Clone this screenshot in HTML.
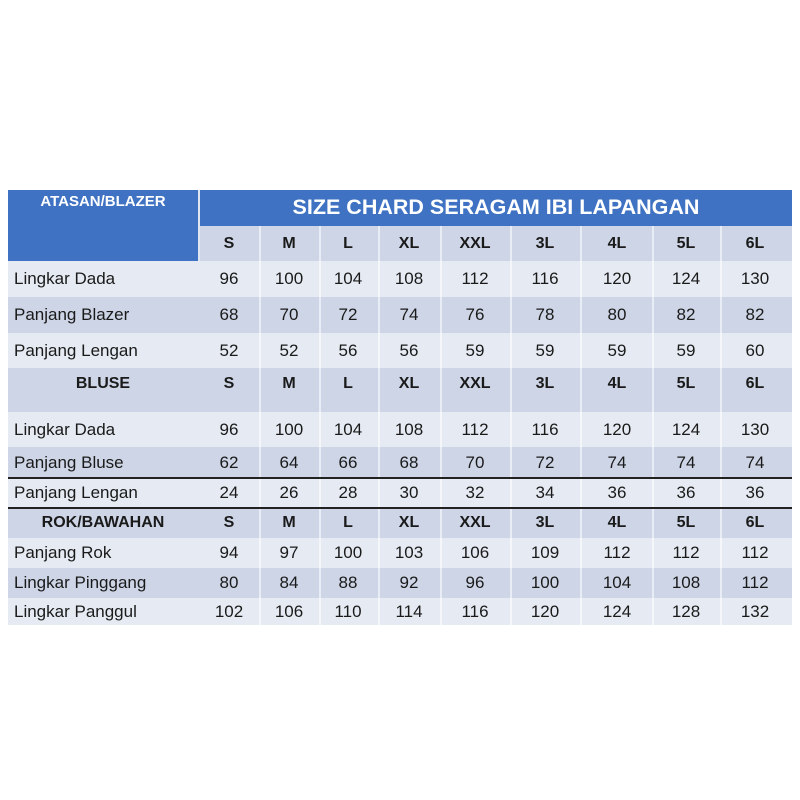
<!DOCTYPE html>
<html><head><meta charset="utf-8"><style>
body{margin:0;width:800px;height:800px;background:#fff;position:relative;overflow:hidden;font-family:"Liberation Sans",sans-serif;color:#1a1a1a}
.r{position:absolute;left:8px;width:784px}
.c{position:absolute;top:0;height:100%;display:flex;align-items:center;justify-content:center;font-size:17px}
.lab{position:absolute;left:6px;top:0;height:100%;display:flex;align-items:center;font-size:17px}
.b{font-weight:bold;font-size:16px}
.vl{position:absolute;top:226px;height:399px;width:2px;background:rgba(255,255,255,.55)}
</style></head><body>
<div id="rows"></div>
<div style="position:absolute;left:8px;top:190px;width:784px;height:36px;background:#3f72c2"></div>
<div style="position:absolute;left:8px;top:190px;width:190px;height:71px;background:#3f72c2"></div>
<div style="position:absolute;left:198px;top:190px;width:2px;height:71px;background:#dfe6f2"></div>
<div style="position:absolute;left:8px;top:193px;width:190px;text-align:center;color:#fff;font-weight:bold;font-size:15px">ATASAN/BLAZER</div>
<div style="position:absolute;left:200px;top:195px;width:592px;text-align:center;color:#fff;font-weight:bold;font-size:21.5px">SIZE CHARD SERAGAM IBI LAPANGAN</div>
<script>
const cx=[229,289,348,409,475,545,617,686,755];
const sizes=["S","M","L","XL","XXL","3L","4L","5L","6L"];
const L="#e6ebf3",D="#cdd5e6";
const rows=[
[226,35,D,null,sizes,true,1],
[261,36,L,"Lingkar Dada",[96,100,104,108,112,116,120,124,130]],
[297,36,D,"Panjang Blazer",[68,70,72,74,76,78,80,82,82]],
[333,35,L,"Panjang Lengan",[52,52,56,56,59,59,59,59,60]],
[368,44,D,"BLUSE",sizes,true,2],
[412,35,L,"Lingkar Dada",[96,100,104,108,112,116,120,124,130]],
[447,31,D,"Panjang Bluse",[62,64,66,68,70,72,74,74,74]],
[478,30,L,"Panjang Lengan",[24,26,28,30,32,34,36,36,36]],
[508,30,D,"ROK/BAWAHAN",sizes,true,0],
[538,30,L,"Panjang Rok",[94,97,100,103,106,109,112,112,112]],
[568,30,D,"Lingkar Pinggang",[80,84,88,92,96,100,104,108,112]],
[598,27,L,"Lingkar Panggul",[102,106,110,114,116,120,124,128,132]]];
let h="";
for(const [t,hh,bg,lab,vals,bold,mode] of rows){
 h+=`<div class="r" style="top:${t}px;height:${hh}px;background:${bg}">`;
 const va=mode==2?"align-items:flex-start;padding-top:7px;box-sizing:border-box;":"";
 if(lab){ if(bold) h+=`<div class="c b" style="left:0;width:190px;${va}">${lab}</div>`; else h+=`<div class="lab">${lab}</div>`;}
 vals.forEach((v,i)=>{h+=`<div class="c${bold?' b':''}" style="left:${cx[i]-8-35}px;width:70px;${va}">${v}</div>`});
 h+=`</div>`;
}
[259,319,378,440,510,580,652,720].forEach(x=>h+=`<div class="vl" style="left:${x}px"></div>`);
h+=`<div style="position:absolute;left:8px;top:477px;width:784px;height:1.5px;background:#222"></div>`;
h+=`<div style="position:absolute;left:8px;top:507px;width:784px;height:1.5px;background:#222"></div>`;
document.getElementById("rows").innerHTML=h;
</script>
</body></html>
